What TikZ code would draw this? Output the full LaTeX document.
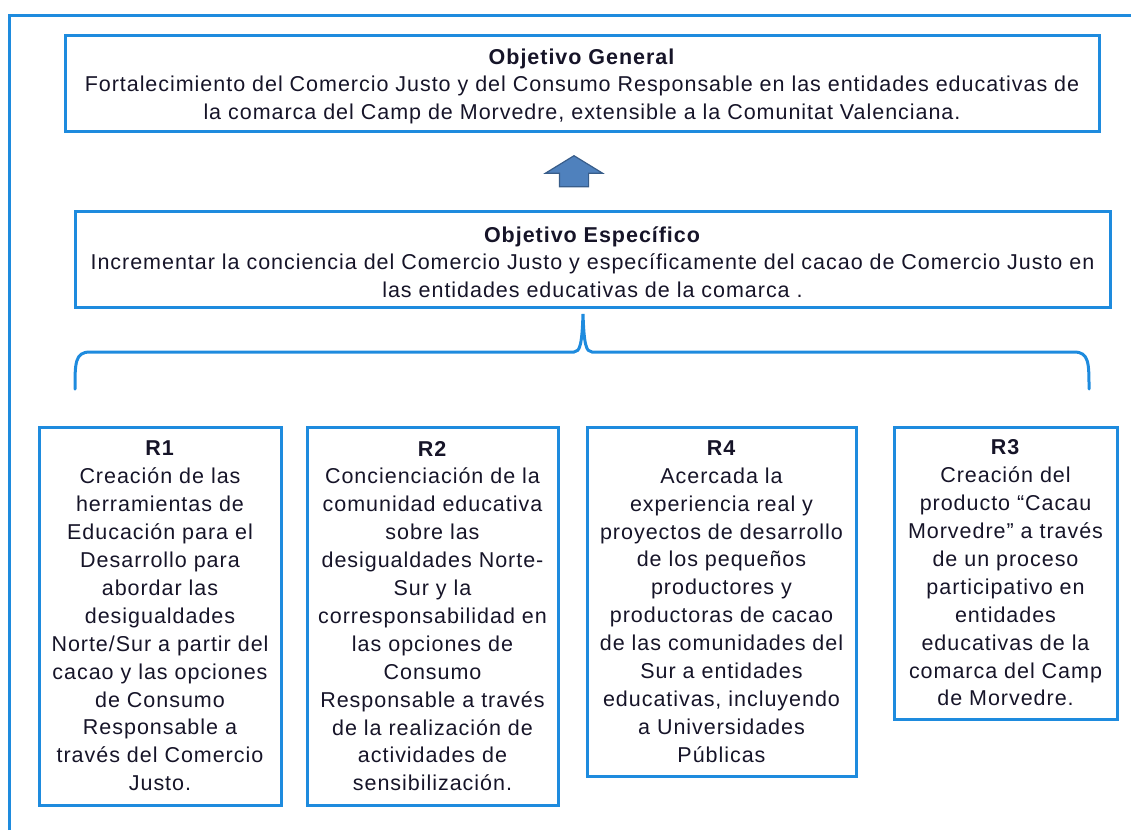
\documentclass[tikz,border=0pt]{standalone}
\usepackage{fontspec}
\setmainfont{Liberation Sans}[LetterSpace=4.5]
\usepackage{xcolor}
\usepackage{tikz}
\usetikzlibrary{shapes.arrows, positioning, calc}

\definecolor{frameblue}{RGB}{30,139,222}
\definecolor{arrowfill}{RGB}{79,129,189}
\definecolor{arrowline}{RGB}{56,93,138}
\definecolor{inkc}{RGB}{22,20,40}
\newcommand{\topstrut}{\rule{0pt}{22pt}}

\begin{document}
\begin{tikzpicture}[
            x=1pt, y=-1pt,
            goal/.style={rectangle, draw=frameblue, line width=3pt, align=center, text=inkc, font=\fontsize{21.5}{27.6}\selectfont, minimum height=96pt, inner sep=0pt, outer sep=0pt},
            res/.style={rectangle, draw=frameblue, line width=3pt, align=center, text=inkc, font=\fontsize{21.5}{27.9}\selectfont, inner sep=0pt, outer sep=0pt, anchor=north west},
            blockup/.style={single arrow, draw=arrowline, fill=arrowfill, line width=1.2pt, rotate=90, anchor=tip, inner sep=0pt, text height=14pt, text depth=14pt, minimum height=31pt, minimum width=56pt, single arrow head extend=14pt, single arrow tip angle=117},
            brace/.style={draw=frameblue, line width=3pt, line cap=round}
        ]
            \useasboundingbox (0,0) rectangle (1131,830);
            % Frame
            \draw[frameblue, line width=3pt] (9,830) |- (1131,15);

            % Nodes
            \node[goal, minimum width=1034pt] (general) at (582,83) {\topstrut\textbf{Objetivo General}\\
                Fortalecimiento del Comercio Justo y del Consumo Responsable en las entidades educativas de\\
                la comarca del Camp de Morvedre, extensible a la Comunitat Valenciana.};
            \node[blockup] (up) at (574,155) {};
            \node[goal, minimum width=1035pt, below=80pt of general, xshift=10.5pt] (especifico) {\topstrut\textbf{Objetivo Específico}\\
                Incrementar la conciencia del Comercio Justo y específicamente del cacao de Comercio Justo en\\
                las entidades educativas de la comarca .};

            \node[res, minimum width=242pt, minimum height=378pt] (r1) at (39,427) {\textbf{R1}\\
                Creación de las\\ herramientas de\\ Educación para el\\ Desarrollo para\\ abordar las\\ desigualdades\\
                Norte/Sur a partir del\\ cacao y las opciones\\ de Consumo\\ Responsable a\\ través del Comercio\\ Justo.};
            \node[res, minimum width=251pt, minimum height=378pt, right=26pt of r1.north east, anchor=north west] (r2) {\textbf{R2}\\
                Concienciación de la\\ comunidad educativa\\ sobre las\\ desigualdades Norte-\\ Sur y la\\ corresponsabilidad en\\
                las opciones de\\ Consumo\\ Responsable a través\\ de la realización de\\ actividades de\\ sensibilización.};
            \node[res, minimum width=269pt, minimum height=349pt, right=29pt of r2.north east, anchor=north west] (r4) {\textbf{R4}\\
                Acercada la\\ experiencia real y\\ proyectos de desarrollo\\ de los pequeños\\ productores y\\ productoras de cacao\\
                de las comunidades del\\ Sur a entidades\\ educativas, incluyendo\\ a Universidades\\ Públicas};
            \node[res, minimum width=223pt, minimum height=292pt, right=38pt of r4.north east, anchor=north west] (r3) {\textbf{R3}\\
                Creación del\\ producto “Cacau\\ Morvedre” a través\\ de un proceso\\ participativo en\\ entidades\\
                educativas de la\\ comarca del Camp\\ de Morvedre.};

            % Brace
            \coordinate (bl) at ($(especifico.south west)+(0,82)$);
            \coordinate (br) at ($(especifico.south east)+(-21,82)$);
            \draw[brace] (bl) .. controls ($(bl)+(0,-26)$) and ($(bl)+(0,-37)$) .. ($(bl)+(15,-37)$) -- (574,352)
                .. controls (580,352) and (582,344) .. (583,314)
                .. controls (584,344) and (586,352) .. (592,352) -- ($(br)+(-15,-37)$)
                .. controls ($(br)+(0,-37)$) and ($(br)+(0,-26)$) .. (br);
\end{tikzpicture}
\end{document}
